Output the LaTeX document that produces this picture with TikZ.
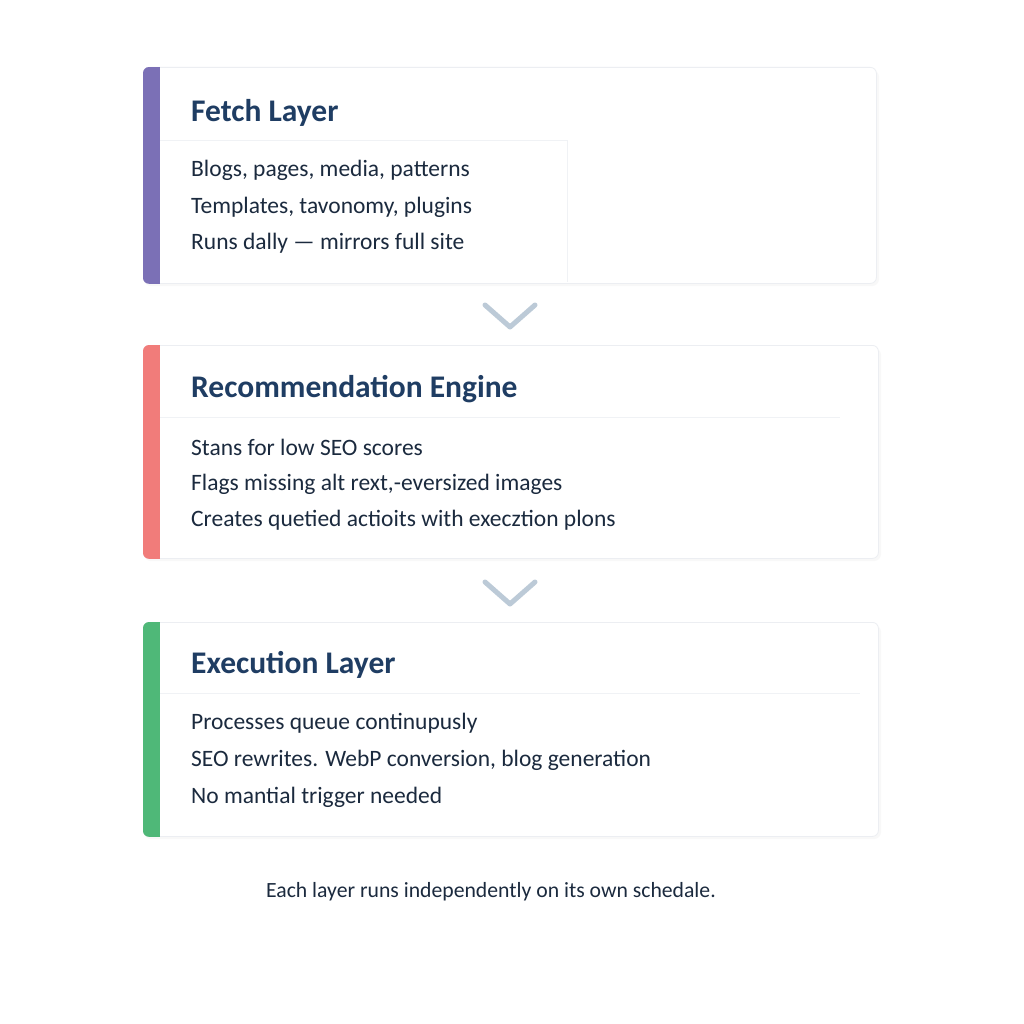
\documentclass[tikz,border=0pt]{standalone}
\usepackage{fontspec}
\setmainfont{Carlito}
\definecolor{titlecol}{HTML}{1F3D63}
\definecolor{bodycol}{HTML}{1B2A3E}
\definecolor{cardline}{HTML}{ECEEF2}
\definecolor{sepcol}{HTML}{F0F2F5}
\definecolor{chevcol}{HTML}{BCCAD7}
\definecolor{accpurple}{HTML}{7B70B6}
\definecolor{accred}{HTML}{F17C7A}
\definecolor{accgreen}{HTML}{4FB878}
\begin{document}
\begin{tikzpicture}[x=1pt,y=-1pt]
\useasboundingbox[fill=white] (0,0) rectangle (1024,1024);
\tikzset{
  card/.style={draw=cardline, line width=0.8pt, fill=white, rounded corners=6pt,
    minimum width=735pt, minimum height=214pt, anchor=north west, inner sep=0pt},
  shadowbox/.style={fill=black!5, rounded corners=7pt},
  sepline/.style={draw=sepcol, line width=1pt},
  titletext/.style={anchor=west, inner sep=0pt, text=titlecol, font=\bfseries\fontsize{31.5}{36}\selectfont},
  bodytext/.style={anchor=west, inner sep=0pt, text=bodycol, font=\fontsize{23.5}{28}\selectfont},
  chevron/.style={draw=chevcol, line width=5pt, line cap=round, line join=round},
  captiontext/.style={inner sep=0pt, text=bodycol, font=\fontsize{21.7}{26}\selectfont}
}
% shadows
\fill[shadowbox, opacity=0.5] (144,70) rectangle (879,286);
\fill[shadowbox, opacity=0.5] (144,348) rectangle (881,561);
\fill[shadowbox, opacity=0.5] (144,625) rectangle (881,839);
% cards
\node[card, minimum width=733pt, minimum height=216pt] (c1) at (143,67) {};
\node[card, minimum height=213pt] (c2) at (143,345) {};
\node[card] (c3) at (143,622) {};
% accent bars
\begin{scope}
\clip[rounded corners=6pt] (c1.north west) rectangle (c1.south east);
\fill[accpurple] (c1.north west) rectangle ([xshift=17pt]c1.south west);
\end{scope}
\begin{scope}
\clip[rounded corners=6pt] (c2.north west) rectangle (c2.south east);
\fill[accred] (c2.north west) rectangle ([xshift=17pt]c2.south west);
\end{scope}
\begin{scope}
\clip[rounded corners=6pt] (c3.north west) rectangle (c3.south east);
\fill[accgreen] (c3.north west) rectangle ([xshift=17pt]c3.south west);
\end{scope}
% separators
\draw[sepline] (160,141) -- (567,141) -- (567,282);
\draw[sepline] (160,417) -- (840,417);
\draw[sepline] (160,693) -- (860,693);
% texts card 1
\node[titletext] (t1) at (191,113) {Fetch Layer};
\node[bodytext] (b11) at (191,170) {Blogs, pages, media, patterns};
\node[bodytext] (b12) at (191,207) {Templates, tavonomy, plugins};
\node[bodytext] (b13) at (191,243) {Runs dally — mirrors full site};
% card 2
\node[titletext] (t2) at (191,389) {Recommendation Engine};
\node[bodytext] (b21) at (191,447) {Stans for low SEO scores};
\node[bodytext] (b22) at (191,484) {Flags missing alt rext,-eversized images};
\node[bodytext] (b23) at (191,520) {Creates quetied actioits with execztion plons};
% card 3
\node[titletext] (t3) at (191,665) {Execution Layer};
\node[bodytext] (b31) at (191,723) {Processes queue continupusly};
\node[bodytext] (b32) at (191,760) {SEO rewrites. WebP conversion, blog generation};
\node[bodytext] (b33) at (191,797) {No mantial trigger needed};
% chevrons
\coordinate (ch1) at (510,315);
\coordinate (ch2) at (510,592);
\draw[chevron] ([shift={(-25,-10)}]ch1) -- ([shift={(0,12)}]ch1) -- ([shift={(25,-10)}]ch1);
\draw[chevron] ([shift={(-25,-10)}]ch2) -- ([shift={(0,12)}]ch2) -- ([shift={(25,-10)}]ch2);
% caption
\node[captiontext] (cap) at (491,892) {Each layer runs independently on its own schedale.};
\end{tikzpicture}
\end{document}
